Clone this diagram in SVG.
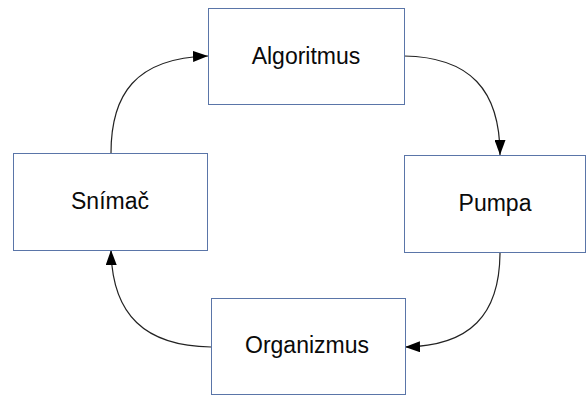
<svg xmlns="http://www.w3.org/2000/svg" width="587" height="396" viewBox="0 0 587 396">
  <style>
    .box { fill: #ffffff; stroke: #5a75a8; stroke-width: 1; }
    .label { font-family: "Liberation Sans", Arial, sans-serif; font-size: 23px; fill: #0a0a0a; text-anchor: middle; }
    .edge { fill: none; stroke: #222222; stroke-width: 1.2; marker-end: url(#arrow); }
  </style>
  <defs>
    <marker id="arrow" markerWidth="15" markerHeight="11" refX="15" refY="5.5" orient="auto" markerUnits="userSpaceOnUse">
      <path d="M0,0 L15,5.5 L0,11 Z" fill="#000000"/>
    </marker>
  </defs>
  <rect width="587" height="396" fill="#ffffff"/>

  <g id="connectors">
    <path class="edge" d="M111,153 C111,95 135,58 208,56"/>
    <path class="edge" d="M404,56 C470,57 500,90 500,155"/>
    <path class="edge" d="M500,252 C500,315 470,346 405,347"/>
    <path class="edge" d="M211,347 C145,346 112,315 111,250"/>
  </g>

  <g id="algoritmus">
    <rect class="box" x="208.5" y="8.5" width="196" height="96"/>
    <text class="label" x="306" y="64">Algoritmus</text>
  </g>
  <g id="snimac">
    <rect class="box" x="13.5" y="153.5" width="194" height="97"/>
    <text class="label" x="110" y="209">Snímač</text>
  </g>
  <g id="pumpa">
    <rect class="box" x="404.5" y="155.5" width="181" height="97"/>
    <text class="label" x="495" y="211">Pumpa</text>
  </g>
  <g id="organizmus">
    <rect class="box" x="211.5" y="298.5" width="194" height="96"/>
    <text class="label" x="307" y="353">Organizmus</text>
  </g>
</svg>
